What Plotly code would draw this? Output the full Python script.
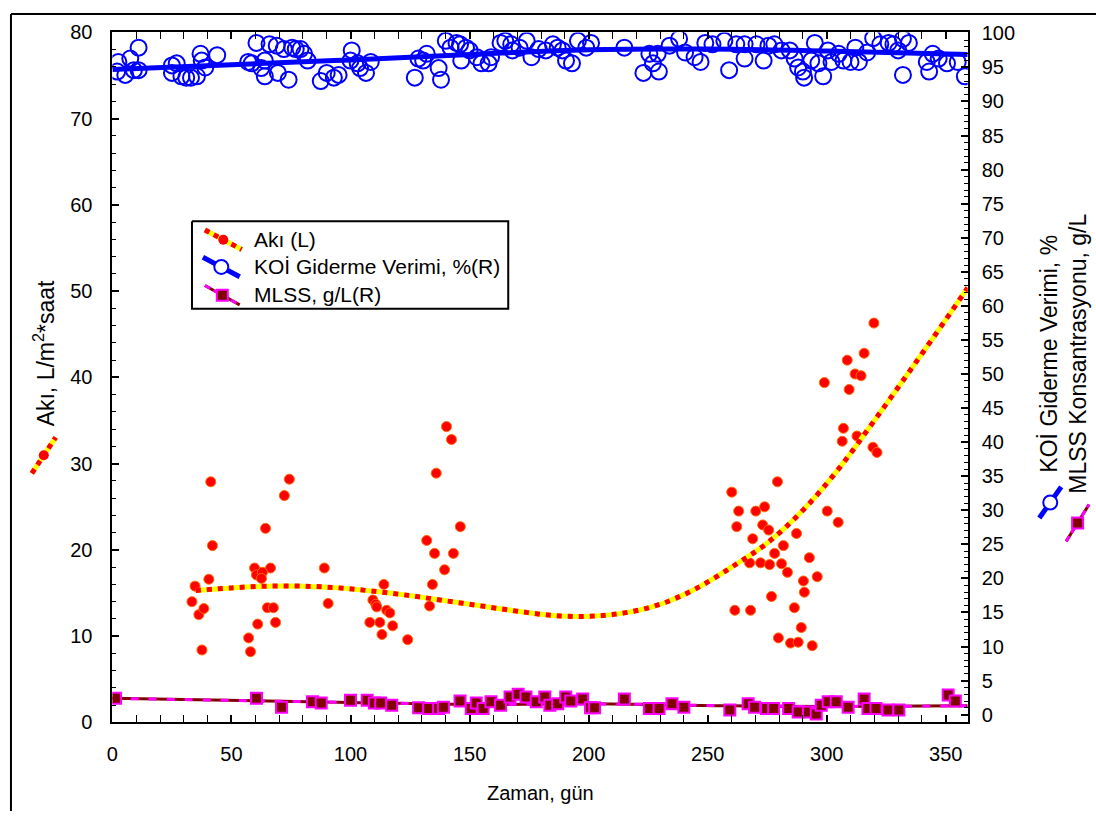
import plotly.graph_objects as go

W, H = 1096, 822
FONT = "Liberation Sans, Arial, sans-serif"

# ---- Akı (flux), L/m2*saat, left axis ----
aki_day = [41.3, 74.3, 72.2, 42.0, 64.3, 40.5, 59.7, 66.4, 60.5, 63.0, 62.6, 89.0,
           34.7, 33.4, 36.3, 38.4, 37.6, 65.1, 67.6, 61.0, 68.5, 57.2, 58.0, 90.6,
           114.0, 109.4, 110.6, 111.0, 115.2, 116.5, 108.1, 112.3, 113.2, 117.7, 124.0,
           136.0, 146.1, 132.0, 135.3, 143.2, 139.5, 134.4, 133.2, 140.3, 142.4,
           319.8, 315.7, 308.6, 311.9, 314.4, 309.4, 299.0, 307.0, 306.5, 312.7, 319.4,
           321.1, 279.3, 260.1, 263.0, 270.2, 273.9, 262.2, 300.2, 304.8, 273.1, 275.6,
           268.9, 287.3, 281.8, 278.1, 267.6, 272.2, 276.0, 281.0, 283.5, 292.7, 296.0,
           290.2, 290.6, 276.8, 261.4, 268.0, 286.4, 289.3, 279.7, 284.8, 288.0, 293.9]
aki_flux = [27.9, 28.2, 26.3, 20.5, 22.5, 16.6, 17.9, 17.9, 17.1, 17.4, 16.7, 17.9,
            15.8, 14.0, 12.5, 13.2, 8.4, 13.3, 13.3, 11.4, 11.6, 9.8, 8.2, 13.8,
            16.0, 14.2, 13.7, 13.4, 13.0, 12.7, 11.6, 11.6, 10.2, 11.2, 9.6,
            28.9, 22.7, 21.1, 19.6, 19.6, 17.7, 16.0, 13.5, 34.3, 32.8,
            46.3, 42.8, 42.0, 40.4, 40.2, 38.6, 39.4, 34.1, 32.6, 33.2, 31.9,
            31.3, 27.9, 26.7, 24.5, 24.5, 25.0, 22.7, 24.5, 23.2, 22.9, 22.3,
            21.3, 21.9, 20.5, 19.6, 18.5, 18.5, 18.3, 18.4, 17.4, 19.1, 16.9,
            16.4, 15.1, 14.6, 13.0, 13.0, 13.3, 11.0, 9.8, 9.2, 9.3, 8.9]

# smoothed flux trend
aki_fit_day = [35, 50, 65, 80, 95, 110, 125, 140, 155, 170, 185, 200, 215, 230, 245,
               260, 275, 290, 305, 320, 335, 350, 359.2]
aki_fit = [15.3, 15.6, 15.8, 15.8, 15.6, 15.2, 14.7, 14.1, 13.5, 12.9, 12.4, 12.3, 12.7,
           13.7, 15.5, 18.0, 20.8, 24.6, 29.4, 35.0, 40.8, 46.7, 50.4]

# ---- KOİ giderme verimi, %, right axis ----
koi_day = [2.5, 2, 5.4, 7.5, 11, 11, 9, 25, 27, 25, 29, 31, 33, 35.5, 37, 37.5, 39, 44,
           57, 58.5, 60.5, 64, 62.5, 64, 66, 69, 69.5, 72, 74, 75.5, 77, 79, 80.5, 82,
           87.5, 90, 93, 95, 100.5, 100, 103, 104, 106.5, 108.5, 127, 128.5, 130.5,
           132, 137, 138, 140, 142, 144.5, 146, 146.5, 148.5, 150, 153, 155, 158, 159,
           163, 165, 167.5, 168, 171, 174, 176, 179, 182, 185, 187, 189, 190.5, 193,
           195.5, 199, 201, 215, 223, 225.5, 227, 229, 229.5, 234, 238, 240.5, 244.5,
           247, 249, 252, 257, 259, 262, 265.5, 265.5, 270.5, 273.5, 275.5, 278, 281,
           284.5, 286.5, 288, 290, 290.5, 293.5, 295, 296.5, 298.5, 300.5, 302, 305,
           307, 310, 312, 313.5, 317, 319.5, 322.5, 326, 328, 330, 332, 334.5, 332,
           342, 343, 344.5, 347, 350.5, 355, 358]
koi_eff = [95.8, 94.4, 93.9, 96.3, 97.9, 94.6, 94.6, 95.3, 95.6, 94.2, 93.7, 93.5, 93.5,
           93.7, 97.0, 96.0, 95.0, 96.8, 95.8, 95.6, 98.6, 96.0, 94.9, 93.7, 98.4, 98.2,
           94.2, 97.7, 93.2, 97.9, 97.7, 97.7, 97.0, 96.0, 93.0, 94.2, 93.5, 93.9, 97.5,
           96.0, 95.6, 94.9, 94.2, 95.8, 93.5, 96.3, 96.0,
           97.0, 94.9, 93.2, 98.9, 97.9, 98.6, 98.4, 96.0, 97.9, 97.5, 96.5, 95.6, 95.6,
           96.5, 98.6, 98.9, 98.4, 97.5, 97.9, 98.9, 96.5, 97.7, 97.5, 98.4, 97.9, 97.5,
           96.0, 95.6, 98.9, 97.9, 98.6, 97.9, 94.2, 97.0, 95.6, 97.0, 94.4, 98.2, 99.2,
           97.2, 96.5, 95.8, 98.6, 98.4, 98.9, 94.6, 98.4, 96.3, 98.4, 98.4, 96.0, 98.2,
           98.4, 97.5, 97.5, 96.3, 95.0, 94.4, 93.5, 96.0, 98.6, 95.6, 93.7, 97.5, 95.8,
           97.0, 96.0, 95.8, 97.9, 95.8, 97.2, 99.3, 98.4, 98.6, 98.4, 97.5, 99.2, 98.6,
           93.9, 95.8, 94.4, 97.0, 96.3, 95.6, 95.8, 93.7]

koi_fit_day = [0, 50, 100, 150, 200, 250, 300, 359.2]
koi_fit = [94.7, 95.4, 96.1, 96.9, 97.6, 97.7, 97.4, 96.9]

# ---- MLSS, g/L, right axis ----
mlss_day = [1.3, 60.5, 71, 84, 87.7, 100, 107, 110, 112.7, 117.3, 128.6, 132.8, 137, 139,
            146, 150.7, 152.8, 155.7, 159, 163, 167, 170.4, 173.7, 178, 181.6, 183.7, 187,
            190.4, 192.5, 197.5, 200.8, 202.5, 215, 225.5, 229.6, 235, 240, 259.3, 267,
            269.7, 274.7, 277.7, 284, 288, 292.3, 295.6, 297.7, 300.6, 304, 309, 315.7,
            317.3, 320.7, 325.7, 330.3, 351, 354]
mlss_conc = [2.4, 2.4, 1.1, 1.9, 1.7, 2.1, 2.1, 1.7, 1.7, 1.4, 1.0, 0.9, 0.9, 1.1,
             2.0, 0.9, 1.7, 0.9, 1.9, 1.4, 2.6, 3.0, 2.6, 1.9, 2.6, 1.4, 1.6,
             2.6, 2.0, 2.3, 1.0, 1.0, 2.3, 0.9, 0.9, 1.6, 1.1, 0.7, 1.6,
             1.1, 0.9, 0.9, 0.9, 0.4, 0.4, 0.1, 1.4, 1.9, 1.9, 1.1, 2.3,
             0.9, 0.9, 0.7, 0.7, 2.9, 2.0]

mlss_fit_day = [0, 100, 160, 200, 260, 300, 359.2]
mlss_fit = [2.4, 1.8, 1.5, 1.6, 1.3, 1.2, 1.3]

# ---- text ----
x_title = "Zaman, gün"
y_title = "Akı, L/m<sup>2</sup>*saat"
y2_title = "KOİ Giderme Verimi, %<br>MLSS Konsantrasyonu, g/L"
legend_labels = ["Akı (L)", "KOİ Giderme Verimi, %(R)", "MLSS, g/L(R)"]

RED, YEL, BLUE, MAR, MAG = "#FF0000", "#FFFF00", "#0000FF", "#800000", "#FF00FF"

fig = go.Figure()

# flux points and smoothed curve
fig.add_trace(go.Scatter(x=aki_day, y=aki_flux, mode="markers", xaxis="x", yaxis="y",
                         marker=dict(symbol="circle", size=10, color=RED,
                                     line=dict(width=1, color="#FF6A00"))))
fig.add_trace(go.Scatter(x=aki_fit_day, y=aki_fit, mode="lines", line_shape="spline",
                         line=dict(color=YEL, width=5)))
fig.add_trace(go.Scatter(x=aki_fit_day, y=aki_fit, mode="lines", line_shape="spline",
                         line=dict(color=RED, width=5, dash="5px,6px")))

# COD removal points and curve
fig.add_trace(go.Scatter(x=koi_day, y=koi_eff, mode="markers", yaxis="y2",
                         marker=dict(symbol="circle-open", size=16, color=BLUE,
                                     line=dict(width=2, color=BLUE))))
fig.add_trace(go.Scatter(x=koi_fit_day, y=koi_fit, mode="lines", yaxis="y2",
                         line_shape="spline", line=dict(color=BLUE, width=5)))

# MLSS points and curve
fig.add_trace(go.Scatter(x=mlss_fit_day, y=mlss_fit, mode="lines", yaxis="y2",
                         line_shape="spline", line=dict(color=MAR, width=3)))
fig.add_trace(go.Scatter(x=mlss_fit_day, y=mlss_fit, mode="lines", yaxis="y2",
                         line_shape="spline", line=dict(color=MAG, width=3, dash="8px,10px")))
fig.add_trace(go.Scatter(x=mlss_day, y=mlss_conc, mode="markers", yaxis="y2",
                         marker=dict(symbol="square", size=11, color=MAR,
                                     line=dict(width=2, color=MAG))))

# ---- decoration layer in pixel coordinates (legend box and title glyphs) ----
def px_trace(xs, ys, **kw):
    fig.add_trace(go.Scatter(x=xs, y=ys, xaxis="x3", yaxis="y3", hoverinfo="skip",
                             cliponaxis=False, **kw))

LEG_L, LEG_T, LEG_R, LEG_B = 187, 216, 505, 306
px_trace([LEG_L, LEG_R, LEG_R, LEG_L, LEG_L], [LEG_T, LEG_T, LEG_B, LEG_B, LEG_T],
         mode="lines", fill="toself", fillcolor="white", line=dict(color="black", width=2))


def glyph(x0, y0, x1, y1, kind):
    xm, ym = (x0 + x1) / 2, (y0 + y1) / 2
    if kind == "aki":
        px_trace([x0, x1], [y0, y1], mode="lines", line=dict(color=YEL, width=5))
        px_trace([x0, x1], [y0, y1], mode="lines", line=dict(color=RED, width=5, dash="5px,5px"))
        px_trace([xm], [ym], mode="markers",
                 marker=dict(symbol="circle", size=10, color=RED, line=dict(width=0)))
    elif kind == "koi":
        px_trace([x0, x1], [y0, y1], mode="lines", line=dict(color=BLUE, width=5))
        px_trace([xm], [ym], mode="markers",
                 marker=dict(symbol="circle", size=14, color="white",
                             line=dict(width=2, color=BLUE)))
    else:
        px_trace([x0, x1], [y0, y1], mode="lines", line=dict(color=MAR, width=3))
        px_trace([x0, x1], [y0, y1], mode="lines", line=dict(color=MAG, width=3, dash="6px,4px"))
        px_trace([xm], [ym], mode="markers",
                 marker=dict(symbol="square", size=11, color=MAR, line=dict(width=2, color=MAG)))


glyph(200, 225, 237, 245, "aki")
glyph(198, 253, 235, 273, "koi")
glyph(200, 282, 235, 302, "mlss")
glyph(26, 475, 50, 438, "aki")
glyph(1039, 521, 1061, 489, "koi")
glyph(1066, 545, 1089, 507, "mlss")

axis_common = dict(showline=True, linecolor="black", linewidth=2, ticks="inside",
                   tickcolor="black", tickwidth=1.5, ticklen=7, showgrid=False,
                   zeroline=False, tickfont=dict(family=FONT, size=20, color="black"))

fig.update_layout(
    width=W, height=H, autosize=False,
    margin=dict(l=0, r=0, t=0, b=0),
    paper_bgcolor="white", plot_bgcolor="rgba(0,0,0,0)",
    showlegend=False,
    xaxis=dict(domain=[107 / W, 967 / W], range=[0, 359.2], anchor="y",
               tick0=0, dtick=50, mirror="allticks", ticklabelstandoff=13,
               minor=dict(dtick=10, ticks="inside", ticklen=4, tickcolor="black", tickwidth=1),
               **axis_common),
    yaxis=dict(domain=[1 - 731 / H, 1 - 22 / H], range=[0, 80], anchor="x",
               tick0=0, dtick=10, ticklabelstandoff=14,
               minor=dict(dtick=2, ticks="inside", ticklen=4, tickcolor="black", tickwidth=1),
               **axis_common),
    yaxis2=dict(overlaying="y", side="right", anchor="x", range=[-1.14, 100.14],
                tick0=0, dtick=5, ticklabelstandoff=8,
                minor=dict(dtick=1, ticks="inside", ticklen=4, tickcolor="black", tickwidth=1),
                **axis_common),
    xaxis3=dict(domain=[0, 1], range=[0, W], visible=False, anchor="y3", fixedrange=True),
    yaxis3=dict(domain=[0, 1], range=[H, 0], visible=False, anchor="x3", fixedrange=True),
)


def ann(text, x, y, size, angle=0, xanchor="center", yanchor="middle", align="center"):
    fig.add_annotation(text=text, x=x / W, y=1 - y / H, xref="paper", yref="paper",
                       showarrow=False, textangle=angle, xanchor=xanchor, yanchor=yanchor,
                       align=align, font=dict(family=FONT, size=size, color="black"))


ann(x_title, 537, 803, 20)
ann(y_title, 38, 352, 23, angle=-90)
ann(y2_title, 1063, 352, 23, angle=-90)
for label, yy in zip(legend_labels, [235, 263, 291]):
    ann(label, 247, yy, 21, xanchor="left")

# outer frame edges
fig.add_shape(type="line", xref="paper", yref="paper", x0=5 / W, x1=1.0,
              y0=1 - 3 / H, y1=1 - 3 / H, line=dict(color="black", width=2))
fig.add_shape(type="line", xref="paper", yref="paper", x0=5 / W, x1=5 / W,
              y0=0, y1=1 - 3 / H, line=dict(color="black", width=2))

fig.write_html("out.html")
